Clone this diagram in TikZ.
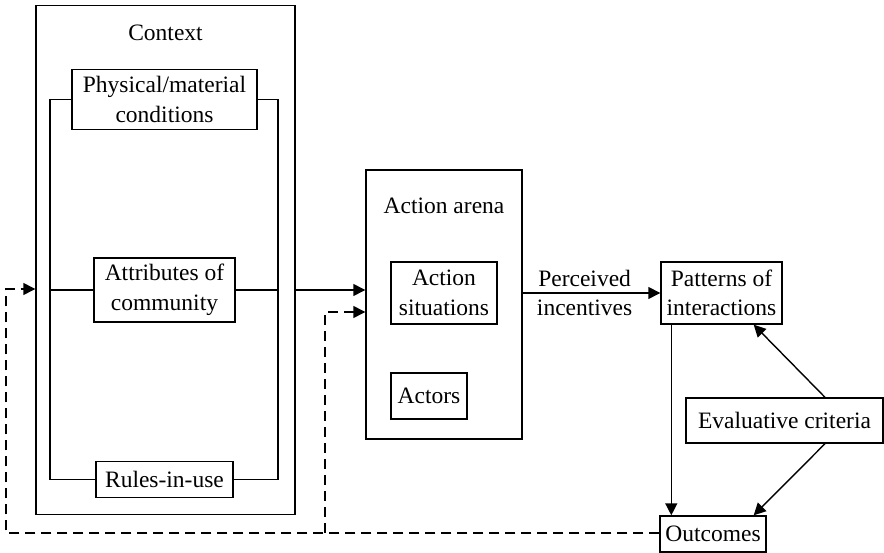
\documentclass[tikz,border=0pt]{standalone}
\usepackage{fontspec}
\setmainfont{Liberation Serif}
\usetikzlibrary{arrows.meta}
\begin{document}
\begin{tikzpicture}[x=1pt, y=-1pt,
  every path/.style={line width=1.4pt},
  txt/.style={font=\fontsize{23.5}{29.5}\selectfont, align=center},
  box/.style={txt, draw, fill=white, inner sep=0pt},
  arr/.style={-{Triangle[length=12pt, width=12pt]}},
  dline/.style={dash pattern=on 10pt off 6pt}]
\useasboundingbox (0,0) rectangle (884,553);

% Context frame and its three components
\node[draw, inner sep=0pt, minimum width=259pt, minimum height=509pt] (ctx) at (165.5,260) {};
\node[txt] (ctxlabel) at (165.5,33) {Context};
\coordinate (fl) at (50,0);
\coordinate (fr) at (278,0);
\node[box, minimum width=185pt, minimum height=60pt] (phys) at (164.5,99.5) {Physical/material\\conditions};
\node[box, minimum width=141pt, minimum height=64pt] (attr) at (164.5,290) {Attributes of\\community};
\node[box, minimum width=137pt, minimum height=36pt] (rules) at (164.5,479.5) {Rules-in-use};
\draw (phys.west) -| (fl |- rules) -- (rules.west);
\draw (phys.east) -| (fr |- rules) -- (rules.east);
\draw (fl |- attr) -- (attr.west);
\draw (attr.east) -- (fr |- attr);

% Action arena
\node[draw, inner sep=0pt, minimum width=156pt, minimum height=269pt] (arena) at (444,304.5) {};
\node[txt] (arenalabel) at (444,206) {Action arena};
\node[box, minimum width=106pt, minimum height=62pt] (sit) at (444,293) {Action\\situations};
\node[box, minimum width=76pt, minimum height=46pt] (actors) at (429,396) {Actors};

% Patterns, criteria, outcomes
\node[box, minimum width=121pt, minimum height=62pt] (pat) at (721.5,293) {Patterns of\\interactions};
\node[box, minimum width=197pt, minimum height=45pt] (eval) at (784.5,420.5) {Evaluative criteria};
\node[box, minimum width=106pt, minimum height=36pt] (out) at (713,534) {Outcomes};

% Flows
\draw[arr] (ctx.east |- attr) -- (arena.west |- attr);
\draw[arr] (arena.east |- pat) -- node[txt, pos=0.45] {Perceived\\incentives} (pat.west);
\draw[arr] ([xshift=11pt]pat.south west) -- ([xshift=11pt]pat.south west |- out.north);
\draw[arr] ([xshift=40.5pt]eval.north) -- ([xshift=-29pt]pat.south east);
\draw[arr] ([xshift=40.5pt]eval.south) -- ([xshift=-13pt]out.north east);

% Feedback from outcomes
\coordinate (fbl) at (6,533);
\coordinate (fbm) at (325,533);
\draw[dline, arr] (out.west |- fbl) -- (fbl) |- (ctx.west |- 0,289);
\draw[dline, arr] (fbm) |- (arena.west |- 0,312);
\end{tikzpicture}
\end{document}
